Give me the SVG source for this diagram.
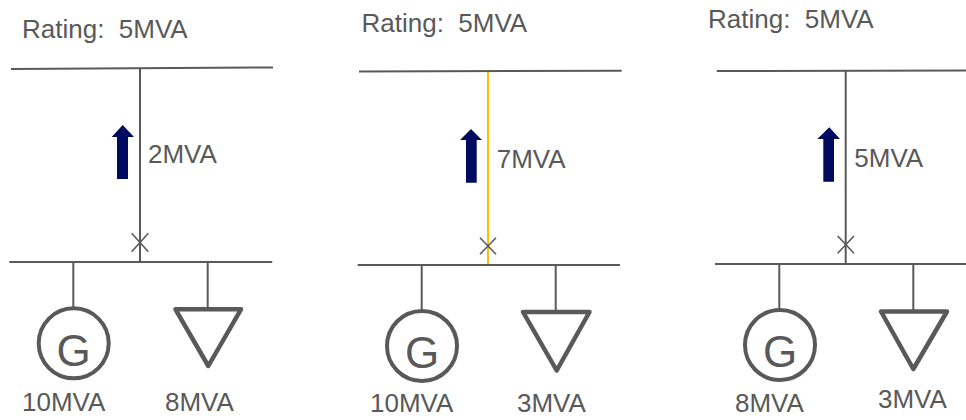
<svg xmlns="http://www.w3.org/2000/svg" width="966" height="420" viewBox="0 0 966 420">
<style>
.bus{stroke:#595959;stroke-width:2;fill:none}
.ln{stroke:#595959;stroke-width:2;fill:none}
.hot{stroke:#FFC000;stroke-width:2;fill:none}
.brk{stroke:#595959;stroke-width:1.6;fill:none}
.gen{stroke:#595959;stroke-width:4;fill:#fff}
.load{stroke:#595959;stroke-width:4.5;fill:#fff;stroke-linejoin:round}
.arr{fill:#000A5E}
.t{font-family:"Liberation Sans",Arial,sans-serif;font-size:26px;fill:#595959;white-space:pre}
.g{font-family:"Liberation Sans",Arial,sans-serif;font-size:44px;fill:#595959;text-anchor:middle}
</style>
<rect width="966" height="420" fill="#fff"/>
<g id="connectors">
<line class="ln" x1="140" y1="68" x2="140" y2="262"/>
<line class="hot" x1="488" y1="71" x2="488" y2="265"/>
<line class="ln" x1="845.7" y1="71" x2="845.7" y2="264"/>
<line class="ln" x1="73.3" y1="262" x2="73.3" y2="307"/>
<line class="ln" x1="207.7" y1="262" x2="207.7" y2="309"/>
<line class="ln" x1="421.7" y1="265" x2="421.7" y2="310"/>
<line class="ln" x1="555.7" y1="265" x2="555.7" y2="312"/>
<line class="ln" x1="779.3" y1="264" x2="779.3" y2="309"/>
<line class="ln" x1="913.3" y1="264" x2="913.3" y2="311"/>
</g>
<g id="panel1">
<text class="t" x="22" y="38" xml:space="preserve">Rating:  5MVA</text>
<g id="bus1-top"><line class="bus" x1="11" y1="69" x2="273" y2="67.5"/></g>
<g id="bus1-bottom"><line class="bus" x1="9.3" y1="262" x2="272.3" y2="262"/></g>
<g id="breaker1"><path class="brk" d="M131.7 233.3L148.3 251.7M148.3 233.3L131.7 251.7"/></g>
<g id="flow1"><polygon class="arr" points="122.7,125 134,137 128,137 128,179 117,179 117,137 111.7,137"/>
<text class="t" x="148" y="163.3">2MVA</text></g>
<g id="gen1"><circle class="gen" cx="73.7" cy="343.3" r="35"/><text class="g" x="73.7" y="365.7">G</text>
<text class="t" x="22" y="411">10MVA</text></g>
<g id="load1"><polygon class="load" points="175.5,309.3 241,309.3 208.3,366"/>
<text class="t" x="165" y="411">8MVA</text></g>
</g>
<g id="panel2">
<text class="t" x="361.5" y="32.3" xml:space="preserve">Rating:  5MVA</text>
<g id="bus2-top"><line class="bus" x1="359" y1="71.5" x2="621.7" y2="70.8"/></g>
<g id="bus2-bottom"><line class="bus" x1="357.7" y1="265" x2="620" y2="265"/></g>
<g id="breaker2"><path class="brk" d="M480 237.7L496 254.3M496 237.7L480 254.3"/></g>
<g id="flow2"><polygon class="arr" points="471,129 482,140 476.7,140 476.7,182.7 466,182.7 466,140 460,140"/>
<text class="t" x="496.7" y="168.3">7MVA</text></g>
<g id="gen2"><circle class="gen" cx="422" cy="346" r="35"/><text class="g" x="422" y="368">G</text>
<text class="t" x="370" y="412">10MVA</text></g>
<g id="load2"><polygon class="load" points="523,312 589.5,312 556.7,370.5"/>
<text class="t" x="517" y="412">3MVA</text></g>
</g>
<g id="panel3">
<text class="t" x="708" y="28.3" xml:space="preserve">Rating:  5MVA</text>
<g id="bus3-top"><line class="bus" x1="716.7" y1="71" x2="966" y2="70.5"/></g>
<g id="bus3-bottom"><line class="bus" x1="715" y1="264" x2="966" y2="264"/></g>
<g id="breaker3"><path class="brk" d="M837.7 236L854 253.3M854 236L837.7 253.3"/></g>
<g id="flow3"><polygon class="arr" points="829.3,127.3 840,139 834,139 834,181.7 823.3,181.7 823.3,139 817.3,139"/>
<text class="t" x="854.3" y="167.3">5MVA</text></g>
<g id="gen3"><circle class="gen" cx="780" cy="345" r="35"/><text class="g" x="780" y="366.7">G</text>
<text class="t" x="735" y="412">8MVA</text></g>
<g id="load3"><polygon class="load" points="881,311.5 947,311.5 913.3,369"/>
<text class="t" x="878" y="408">3MVA</text></g>
</g>
</svg>
